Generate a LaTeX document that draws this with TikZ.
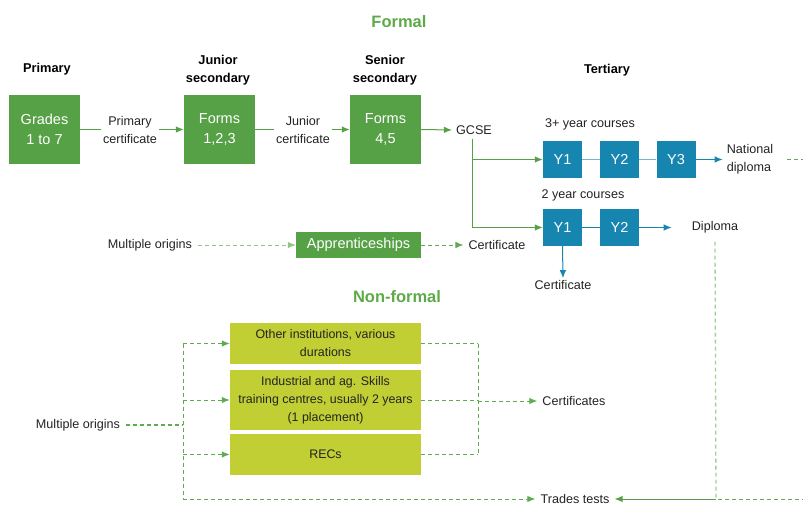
\documentclass[tikz,border=0pt]{standalone}
\usepackage{fontspec}
\setmainfont{Liberation Sans}
\usetikzlibrary{arrows.meta, positioning}

\definecolor{formgreen}{RGB}{86,160,70}
\definecolor{titlegreen}{RGB}{92,170,72}
\definecolor{tertblue}{RGB}{22,134,176}
\definecolor{nflime}{RGB}{193,207,52}
\definecolor{dashgreen}{RGB}{96,170,80}
\definecolor{palegreen}{RGB}{160,210,150}
\definecolor{inktext}{RGB}{35,35,35}

\begin{document}
\begin{tikzpicture}[x=1pt, y=-1pt,
    stagebox/.style={fill=formgreen, text=white, minimum width=71pt, minimum height=69pt, align=center, font=\fontsize{14.5}{20}\selectfont},
    yearbox/.style={fill=tertblue, text=white, minimum width=39pt, minimum height=37pt, font=\fontsize{14.5}{17}\selectfont},
    nfbox/.style={fill=nflime, text=inktext, minimum width=191pt, align=center, font=\fontsize{12.4}{18}\selectfont},
    head/.style={font=\fontsize{12.8}{18}\selectfont\bfseries, align=center, text=black},
    title/.style={font=\fontsize{16.5}{19}\selectfont\bfseries, text=titlegreen},
    label/.style={font=\fontsize{12.6}{18}\selectfont, align=center, inner sep=2pt, text=inktext},
    arr/.style={-{Latex[length=8pt,width=6.5pt]}, line width=1pt},
    greenline/.style={draw=formgreen, line width=1pt},
    blueline/.style={draw=tertblue, line width=1pt},
    dashline/.style={draw=dashgreen, line width=1pt, dash pattern=on 4pt off 3pt},
    paledash/.style={draw=palegreen, line width=1.3pt, dash pattern=on 4pt off 3pt}
]
\useasboundingbox (0,0) rectangle (803,505);

% Formal pathway
\node[title] (formal) at (399,22) {Formal};

\node[head] (primary_head) at (47,69) {Primary};
\node[head] (junior_head) at (218,70) {Junior\\secondary};
\node[head] (senior_head) at (385,70) {Senior\\secondary};
\node[head] (tertiary_head) at (607,70) {Tertiary};

\node[stagebox] (grades) at (44.5,129.5) {Grades\\1 to 7};
\node[stagebox] (forms_jr) at (219.5,129.5) {Forms\\1,2,3};
\node[stagebox] (forms_sr) at (385.5,129.5) {Forms\\4,5};

\node[label] (prim_cert) at (130,129.5) {Primary\\certificate};
\node[label] (jun_cert) at (303,129.5) {Junior\\certificate};
\node[label, inner sep=4pt] (gcse) at (474,130) {GCSE};

\draw[greenline] (grades.east) -- (prim_cert.west);
\draw[greenline, arr] (prim_cert.east) -- (forms_jr.west);
\draw[greenline] (forms_jr.east) -- (jun_cert.west);
\draw[greenline, arr] (jun_cert.east) -- (forms_sr.west);
\draw[greenline, arr] (forms_sr.east) -- (gcse.west);

% Tertiary courses
\node[label] (three_yr) at (590,124) {3+ year courses};
\node[yearbox] (y1_long) at (562.5,159.5) {Y1};
\node[yearbox] (y2_long) at (619.5,159.5) {Y2};
\node[yearbox] (y3_long) at (676,159.5) {Y3};
\node[label, align=left, inner sep=4pt] (nat_dip) at (750,159.5) {National\\diploma};

\node[label] (two_yr) at (583,195) {2 year courses};
\node[yearbox] (y1_short) at (562.5,227.5) {Y1};
\node[yearbox] (y2_short) at (619.5,227.5) {Y2};
\node[label] (diploma) at (715,227.5) {Diploma};
\node[label] (tert_cert) at (563,285) {Certificate};

\draw[greenline, arr] ([xshift=-2pt]gcse.south) |- (y1_long.west);
\draw[greenline, arr] ([xshift=-2pt]gcse.south) |- (y1_short.west);

\draw[blueline, draw=tertblue!60, line width=1.3pt] (y1_long.east) -- (y2_long.west);
\draw[blueline, draw=tertblue!60, line width=1.3pt] (y2_long.east) -- (y3_long.west);
\draw[blueline, arr] (y3_long.east) -- (nat_dip.west);
\draw[blueline] (y1_short.east) -- (y2_short.west);
\draw[blueline, arr] (y2_short.east) -- ([xshift=-18pt]diploma.west);
\draw[blueline, arr] (y1_short.south) -- (tert_cert.north);

% Apprenticeships
\node[label] (origins_top) at (150,245) {Multiple origins};
\node[fill=formgreen, text=white, minimum width=125pt, minimum height=26pt, font=\fontsize{14.5}{17}\selectfont] (appr) at (358.5,245) {Apprenticeships};
\node[label, inner sep=5pt] (appr_cert) at (497,245) {Certificate};

\draw[paledash, draw=dashgreen!70, line width=1pt, arr] ([xshift=4pt]origins_top.east) -- (appr.west);
\draw[dashline, arr] (appr.east) -- (appr_cert.west);

% Non-formal pathway
\node[title] (nonformal) at (397,297) {Non-formal};

\node[nfbox, minimum height=41pt] (other_inst) at (325.5,343.5) {Other institutions, various\\durations};
\node[nfbox, minimum height=60pt] (skills) at (325.5,400) {Industrial and ag. Skills\\training centres, usually 2 years\\(1 placement)};
\node[nfbox, minimum height=41pt] (recs) at (325.5,454.5) {RECs};

\node[label] (origins_low) at (78,425) {Multiple origins};
\node[label, inner sep=5pt] (certs) at (574,401) {Certificates};
\node[label, inner sep=5pt] (trades) at (575,499) {Trades tests};

\coordinate (spine) at (183,425);
\coordinate (collect) at (478,401);
\coordinate (nd_exit) at (806,159.5);
\coordinate (trades_turn) at (716,499);
\coordinate (right_exit) at (806,499);

\draw[dashline, line width=1.6pt] ([xshift=4pt]origins_low.east) -- (spine);
\draw[dashline] (spine |- other_inst.west) -- (spine |- trades.west);
\foreach \b in {other_inst, skills, recs} {
    \draw[dashline, arr] (spine |- \b.west) -- (\b.west);
    \draw[dashline] (\b.east) -- (collect |- \b.east);
}
\draw[dashline, arr] (spine |- trades.west) -- (trades.west);
\draw[dashline] (collect |- other_inst.east) -- (collect |- recs.east);
\draw[dashline, arr] (collect) -- (certs.west);

% Routes into trades tests
\draw[dashline] ([xshift=10pt]nat_dip.east) -- (nd_exit);
\draw[paledash] ([yshift=-6pt]diploma.south) -- (trades_turn);
\draw[dashline] (right_exit) -- (trades_turn);
\draw[greenline, arr] (trades_turn) -- (trades.east);

\end{tikzpicture}
\end{document}
